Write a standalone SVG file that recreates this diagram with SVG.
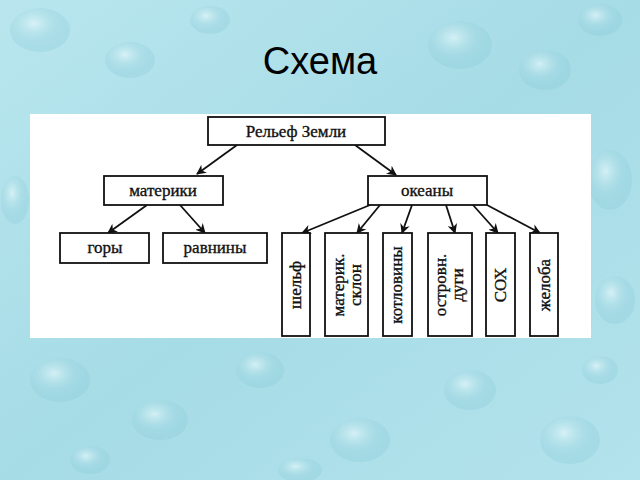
<svg xmlns="http://www.w3.org/2000/svg" width="640" height="480" viewBox="0 0 640 480">
<defs>
<linearGradient id="bg" x1="0" y1="0" x2="1" y2="1">
<stop offset="0" stop-color="#b9e6ee"/>
<stop offset="0.5" stop-color="#a6dce6"/>
<stop offset="1" stop-color="#b3e3ec"/>
</linearGradient>
<radialGradient id="drop" cx="0.4" cy="0.35" r="0.6">
<stop offset="0" stop-color="#e6f8fb" stop-opacity="0.7"/>
<stop offset="0.6" stop-color="#9fd6e1" stop-opacity="0.4"/>
<stop offset="1" stop-color="#7fc4d3" stop-opacity="0.25"/>
</radialGradient>
<marker id="ah" viewBox="0 0 10 10" refX="9" refY="5" markerWidth="5.5" markerHeight="5.5" orient="auto" markerUnits="strokeWidth">
<path d="M0,0 L10,5 L0,10 L3,5 z" fill="#111"/>
</marker>
<style>
.box{fill:#fff;stroke:#111;stroke-width:1.8}
.t{font-family:"Liberation Serif","Times New Roman",serif;font-size:17px;fill:#111;text-anchor:middle;stroke:#111;stroke-width:0.35}
.c{stroke:#111;stroke-width:1.8;fill:none;marker-end:url(#ah)}
.d{fill:url(#drop)}
</style>
</defs>
<rect width="640" height="480" fill="url(#bg)"/>
<g id="background-drops">
<ellipse class="d" cx="40" cy="30" rx="30" ry="22"/>
<ellipse class="d" cx="130" cy="60" rx="25" ry="18"/>
<ellipse class="d" cx="210" cy="20" rx="20" ry="14"/>
<ellipse class="d" cx="460" cy="45" rx="32" ry="24"/>
<ellipse class="d" cx="545" cy="70" rx="26" ry="20"/>
<ellipse class="d" cx="600" cy="20" rx="22" ry="16"/>
<ellipse class="d" cx="610" cy="180" rx="22" ry="30"/>
<ellipse class="d" cx="615" cy="300" rx="20" ry="24"/>
<ellipse class="d" cx="60" cy="380" rx="30" ry="22"/>
<ellipse class="d" cx="160" cy="420" rx="28" ry="20"/>
<ellipse class="d" cx="260" cy="370" rx="24" ry="18"/>
<ellipse class="d" cx="360" cy="440" rx="30" ry="22"/>
<ellipse class="d" cx="470" cy="390" rx="26" ry="20"/>
<ellipse class="d" cx="570" cy="440" rx="30" ry="24"/>
<ellipse class="d" cx="600" cy="370" rx="18" ry="14"/>
<ellipse class="d" cx="15" cy="200" rx="14" ry="24"/>
<ellipse class="d" cx="90" cy="460" rx="20" ry="14"/>
<ellipse class="d" cx="300" cy="470" rx="22" ry="12"/>
</g>
<text x="320" y="74" font-family="Liberation Sans, Arial, sans-serif" font-size="38" text-anchor="middle" fill="#000">Схема</text>
<rect x="30" y="114" width="561" height="224" fill="#fff"/>
<g id="connectors">
<line class="c" x1="237" y1="145" x2="197" y2="174"/>
<line class="c" x1="355" y1="145" x2="396" y2="175"/>
<line class="c" x1="147" y1="205" x2="108" y2="233"/>
<line class="c" x1="180" y1="205" x2="205" y2="233"/>
<line class="c" x1="370" y1="205" x2="302" y2="233"/>
<line class="c" x1="380" y1="205" x2="357" y2="233"/>
<line class="c" x1="412" y1="205" x2="402" y2="233"/>
<line class="c" x1="446" y1="205" x2="455" y2="233"/>
<line class="c" x1="473" y1="205" x2="498" y2="233"/>
<line class="c" x1="487" y1="205" x2="540" y2="233"/>
</g>
<g id="relief"><rect class="box" x="208" y="117" width="177" height="28"/><text class="t" x="296" y="137">Рельеф Земли</text></g>
<g id="continents"><rect class="box" x="104" y="176" width="119" height="29"/><text class="t" x="163" y="196">материки</text></g>
<g id="oceans"><rect class="box" x="368" y="176" width="119" height="29"/><text class="t" x="427" y="196">океаны</text></g>
<g id="mountains"><rect class="box" x="60" y="233" width="89" height="30"/><text class="t" x="105" y="253">горы</text></g>
<g id="plains"><rect class="box" x="163" y="233" width="104" height="30"/><text class="t" x="215" y="253">равнины</text></g>
<g id="shelf"><rect class="box" x="282" y="233" width="28" height="103"/><text class="t" transform="translate(301,285) rotate(-90)">шельф</text></g>
<g id="slope"><rect class="box" x="325" y="233" width="43" height="103"/><text class="t" transform="translate(344,285) rotate(-90)">материк.</text><text class="t" transform="translate(361,285) rotate(-90)">склон</text></g>
<g id="basins"><rect class="box" x="383" y="233" width="29" height="103"/><text class="t" transform="translate(402,285) rotate(-90)">котловины</text></g>
<g id="arcs"><rect class="box" x="428" y="233" width="44" height="103"/><text class="t" transform="translate(446,285) rotate(-90)">островн.</text><text class="t" transform="translate(463,285) rotate(-90)">дуги</text></g>
<g id="ridges"><rect class="box" x="486" y="233" width="29" height="103"/><text class="t" transform="translate(506,285) rotate(-90)">СОХ</text></g>
<g id="trenches"><rect class="box" x="530" y="233" width="28" height="103"/><text class="t" transform="translate(550,285) rotate(-90)">желоба</text></g>
</svg>
